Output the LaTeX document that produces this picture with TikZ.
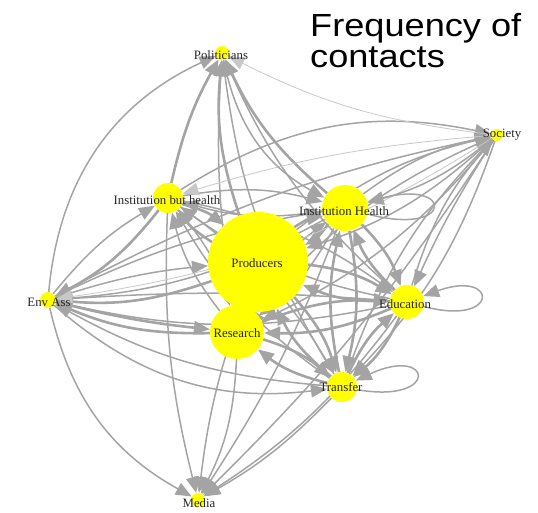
\documentclass[tikz,border=0pt]{standalone}
\usepackage{fontspec}
\setmainfont{Liberation Serif}
\newfontfamily\titlefont{Liberation Sans}
\usetikzlibrary{arrows.meta}
\tikzset{>={Triangle[length=16pt,width=13pt]}}
\pgfdeclarelayer{bg}
\pgfsetlayers{bg,main}
\definecolor{edgegray}{HTML}{A4A4A4}
\definecolor{faintgray}{HTML}{C8C8C8}
\definecolor{nodeyellow}{HTML}{FFFF00}
\definecolor{labeltext}{HTML}{262626}

\begin{document}
\begin{tikzpicture}[x=1pt,y=-1pt,
  vert/.style={circle,fill=nodeyellow,draw=none,inner sep=0pt},
  lbl/.style={font=\fontsize{12.8}{12.8}\selectfont,text=labeltext,inner sep=0pt},
  link/.style={draw,color=edgegray,->,line width=1.5pt,bend left=12},
  faint/.style={color=faintgray,line width=0.8pt},
  heavy/.style={line width=2.6pt},
  selfloop/.style={relative=false,min distance=#1},
  headline/.style={font=\titlefont\fontsize{32}{32}\selectfont,anchor=base west,inner sep=0pt}]
\useasboundingbox (0,0) rectangle (538,513);

% nodes, size = frequency
\node[vert,minimum size=14pt]  (pol)  at (222,53)  {};
\node[vert,minimum size=12pt]  (soc)  at (497,135) {};
\node[vert,minimum size=30pt]  (ibh)  at (168,198) {};
\node[vert,minimum size=46pt]  (ih)   at (345,208) {};
\node[vert,minimum size=100pt] (prod) at (258,262) {};
\node[vert,minimum size=16pt]  (env)  at (48,300)  {};
\node[vert,minimum size=34pt]  (edu)  at (407,302) {};
\node[vert,minimum size=54pt]  (res)  at (237,332) {};
\node[vert,minimum size=30pt]  (tra)  at (342,387) {};
\node[vert,minimum size=14pt]  (med)  at (198,500) {};

\node[lbl] at (221,55)  {Politicians};
\node[lbl] at (502,135) {Society};
\node[lbl] at (167,200) {Institution but health};
\node[lbl] at (344,211) {Institution Health};
\node[lbl] at (257,263) {Producers};
\node[lbl] at (49,302)  {Env Ass};
\node[lbl] at (405,304) {Education};
\node[lbl] at (237,333) {Research};
\node[lbl] at (341,387) {Transfer};
\node[lbl] at (199,503) {Media};

\node[headline] (title1) at (310,37) {\scalebox{1.13}[1]{Frequency of}};
\node[headline] (title2) at (310,68) {\scalebox{1.13}[1]{contacts}};

\begin{pgfonlayer}{bg}
% Env Ass
\path[link] (env) edge[bend left=30] (pol) edge[bend left=10] (ibh) edge[bend left=6] (prod)
  edge[bend left=8] (ih) edge[bend left=4] (edu) edge[bend left=8] (soc)
  edge[heavy,bend right=4] (res) edge[bend right=24] (tra) edge[bend right=24] (med);
% Institution but health
\path[link] (ibh) edge[heavy,bend left=8] (pol) edge[heavy] (prod) edge[heavy] (env)
  edge (ih) edge (res) edge (edu) edge (tra) edge[bend left=22] (soc) edge[bend right=8] (med);
% Institution Health
\path[link] (ih) edge[heavy] (pol) edge[heavy] (prod) edge[heavy] (edu) edge[heavy] (tra)
  edge (ibh) edge (res) edge (env) edge (soc) edge[bend left=6] (med)
  edge[out=-15,in=15,selfloop=90pt] (ih);
% Producers
\path[link] (prod) edge[heavy] (pol) edge[heavy] (ibh) edge[heavy] (ih) edge[heavy] (env)
  edge[heavy] (edu) edge[heavy] (res) edge[heavy] (tra) edge (soc) edge[bend right=6] (med);
% Research
\path[link] (res) edge[heavy] (prod) edge[heavy] (env) edge[heavy] (tra) edge[heavy] (edu)
  edge[bend left=6] (pol) edge (ibh) edge (ih) edge (soc) edge (med);
% Education
\path[link] (edu) edge[heavy] (prod) edge[heavy] (ih) edge[heavy] (tra) edge[heavy] (res)
  edge (pol) edge (ibh) edge (env) edge (soc) edge[bend left=10] (med)
  edge[out=-15,in=20,selfloop=80pt] (edu);
% Transfer
\path[link] (tra) edge[heavy] (res) edge[heavy] (edu) edge[heavy] (prod) edge[heavy] (ih)
  edge (pol) edge (ibh) edge (env) edge (soc) edge[bend left=8] (med)
  edge[out=-10,in=25,selfloop=85pt] (tra);
% Society
\path[link] (soc) edge[faint,bend left=10] (pol) edge[faint,bend right=6] (ibh) edge[faint] (env)
  edge (ih) edge[bend right=4] (edu) edge (tra) edge (prod) edge (res) edge[bend left=6] (med);
% Politicians
\path[link] (pol) edge[bend right=25] (ih);
\end{pgfonlayer}
\end{tikzpicture}
\end{document}
